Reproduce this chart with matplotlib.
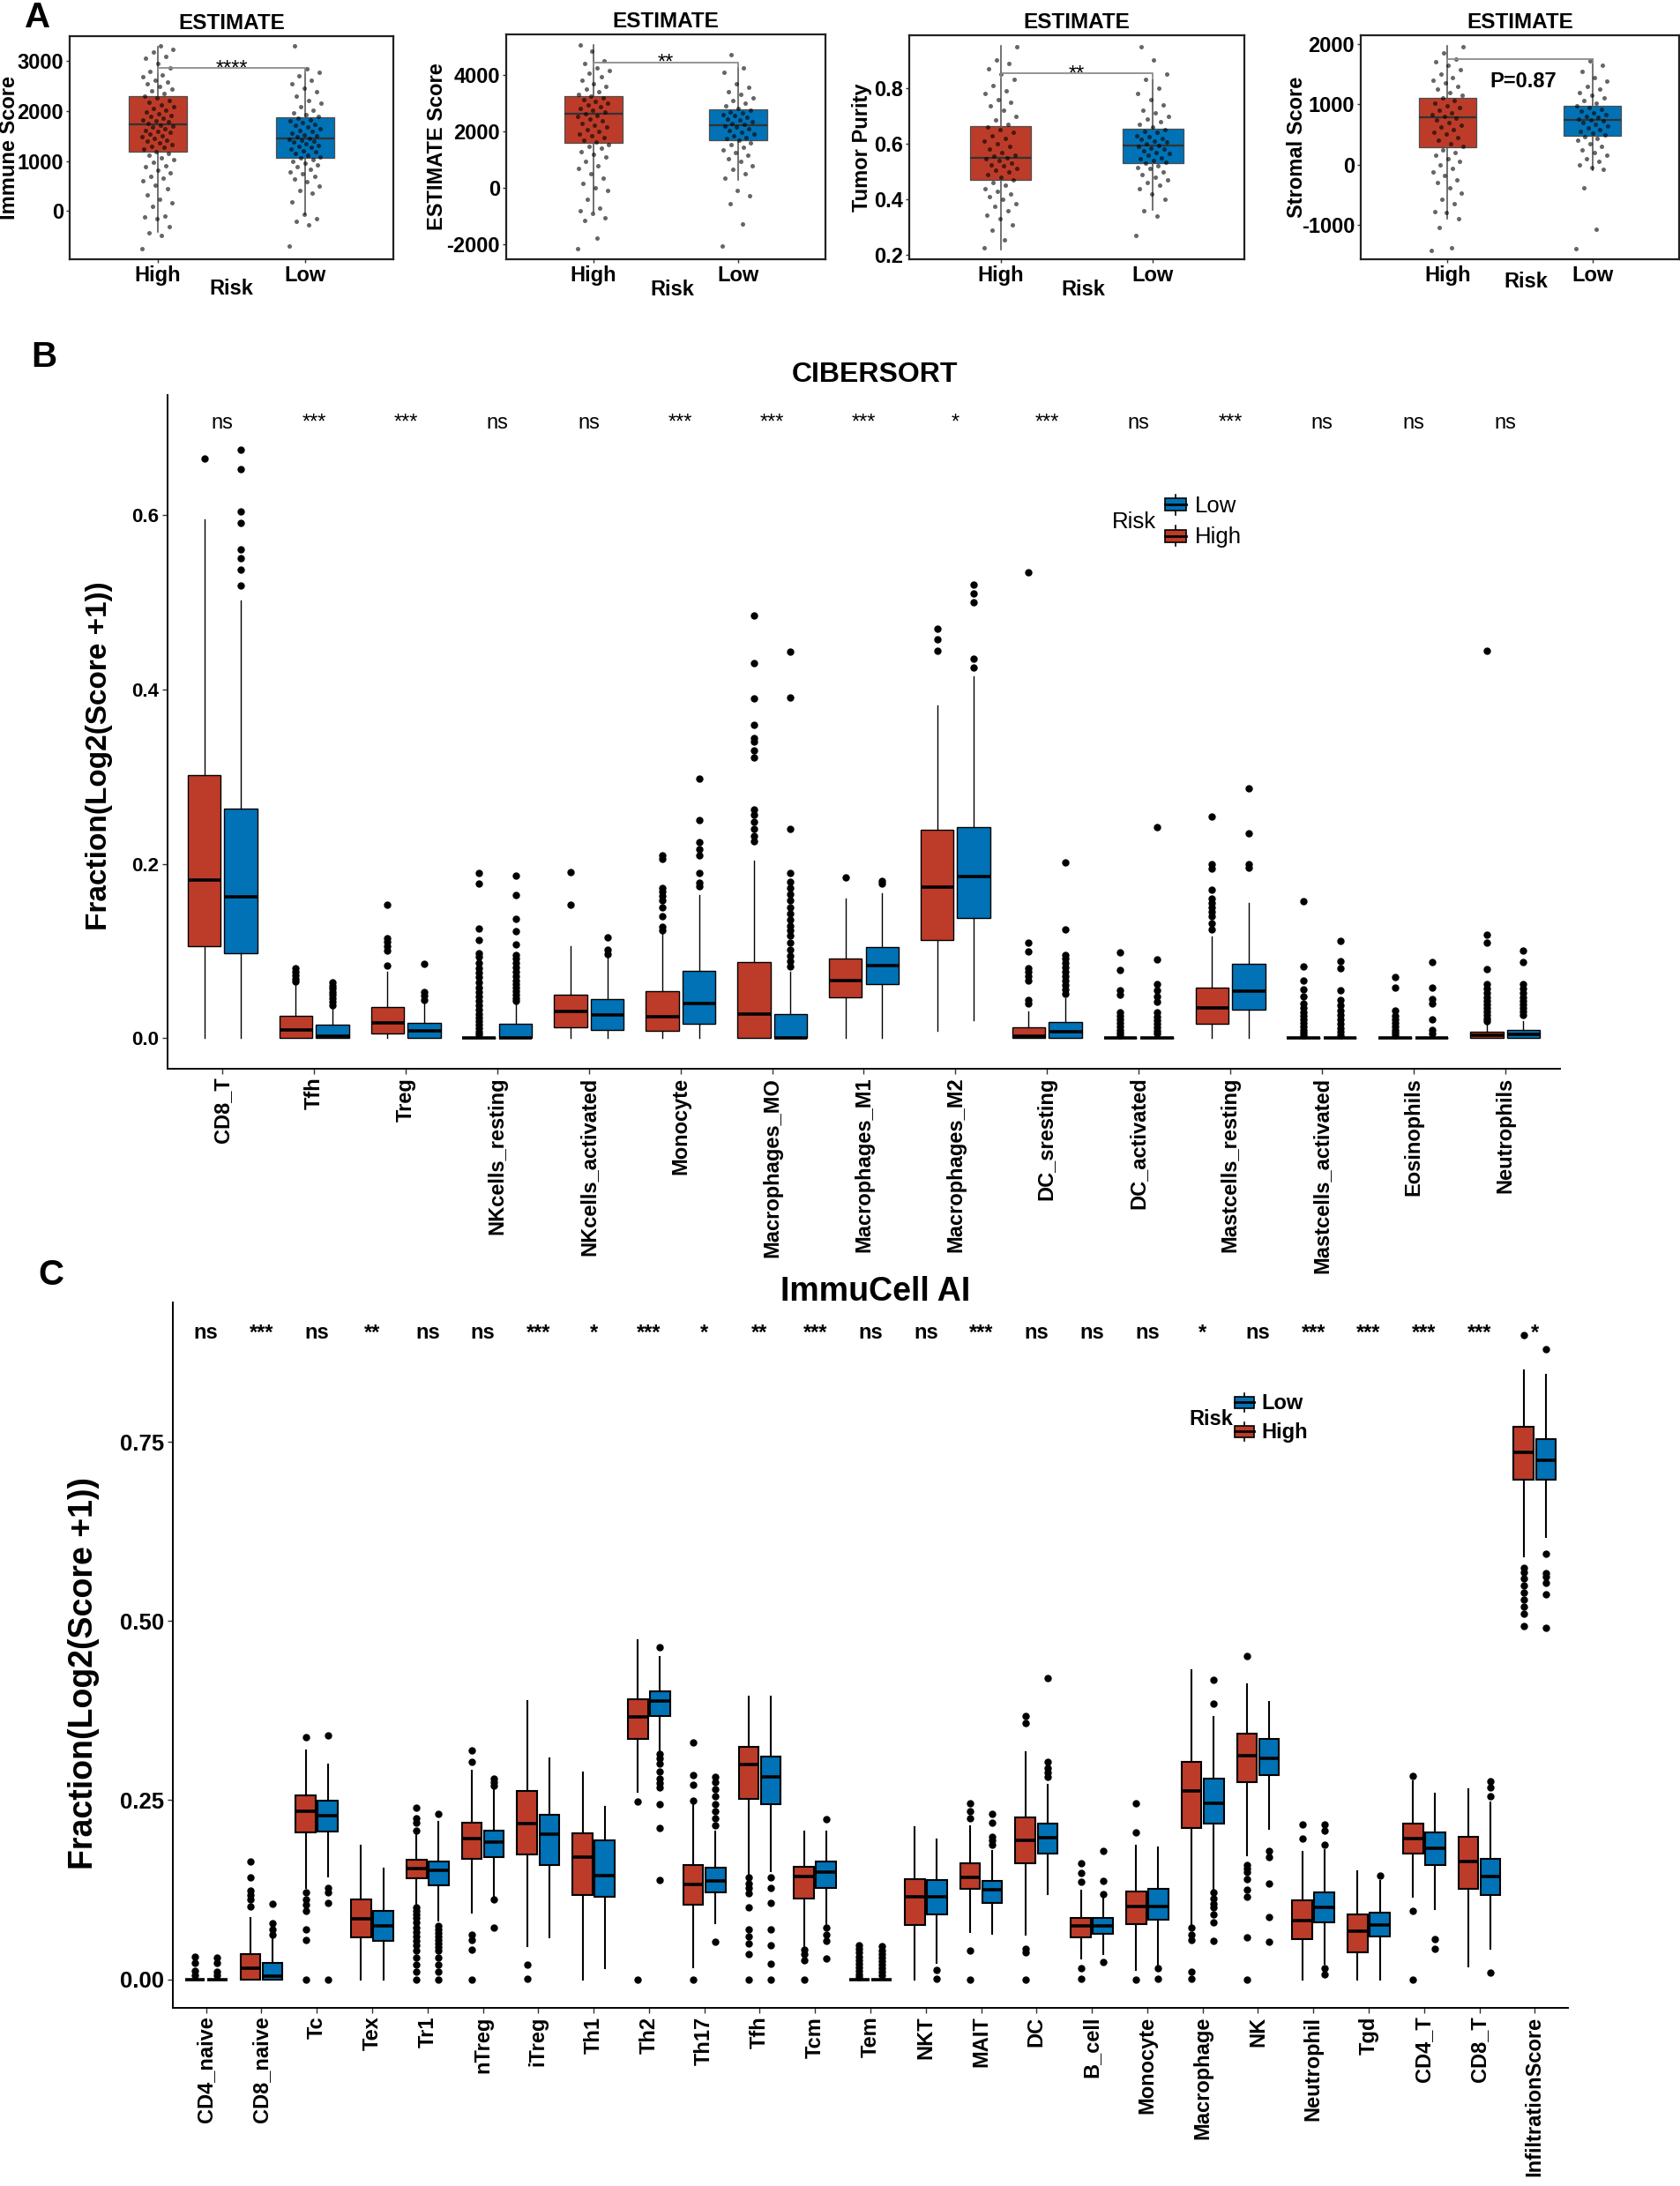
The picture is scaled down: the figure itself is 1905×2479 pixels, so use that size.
import numpy as np
import matplotlib
matplotlib.use("Agg")
import matplotlib.pyplot as plt
from matplotlib.legend_handler import HandlerBase
from matplotlib.patches import Rectangle, Patch
from matplotlib.lines import Line2D

W, H, DPI = 1906, 2479, 100
RED, BLUE = "#BC3C29", "#0072B5"

plt.rcParams["font.family"] = ["Liberation Sans", "DejaVu Sans"]
plt.rcParams["axes.unicode_minus"] = False

# ---------------- panel A: ESTIMATE ----------------
a_ylabels = ["Immune Score", "ESTIMATE Score", "Tumor Purity", "Stromal Score"]
a_yticks = [[0, 1000, 2000, 3000], [-2000, 0, 2000, 4000],
            [0.2, 0.4, 0.6, 0.8], [-1000, 0, 1000, 2000]]
a_ylims = [(-965, 3500), (-2516, 5433), (0.185, 0.99), (-1571, 2146)]
a_signif = ["****", "**", "**", "P=0.87"]
a_bracket = [2857, 4446, 0.853, 1757]
# whislo, q1, median, q3, whishi
a_high_box = [[-423, 1182, 1739, 2298, 3280],
              [-832, 1600, 2618, 3261, 5070],
              [0.221, 0.469, 0.548, 0.665, 0.953],
              [-902, 293, 781, 1108, 1976]]
a_low_box = [[-70, 1069, 1452, 1875, 2840],
             [290, 1693, 2233, 2775, 4240],
             [0.361, 0.530, 0.594, 0.654, 0.832],
             [-88, 478, 742, 976, 1748]]

immune_high = [-760, -480, -440, -310, -150, -120, -100, 90, 160, 230, 330, 450, 520, 610, 660,
               700, 770, 820, 880, 910, 980, 1030, 1070, 1120, 1160, 1190, 1240, 1270, 1300, 1330,
               1370, 1400, 1420, 1450, 1480, 1510, 1540, 1570, 1600, 1620, 1650, 1680, 1700, 1720,
               1750, 1780, 1800, 1830, 1860, 1890, 1920, 1950, 1980, 2010, 2050, 2090, 2130, 2170,
               2210, 2260, 2300, 2350, 2400, 2440, 2490, 2540, 2580, 2620, 2680, 2730, 2800, 2870,
               2950, 3050, 3090, 3180, 3230, 3300]
immune_low = [-700, -270, -200, -160, -60, 180, 350, 420, 500, 580, 640, 690, 740, 780, 830, 880,
              920, 960, 1000, 1030, 1060, 1090, 1120, 1150, 1180, 1210, 1240, 1270, 1300, 1320,
              1350, 1380, 1400, 1420, 1440, 1460, 1480, 1500, 1530, 1560, 1590, 1620, 1650, 1680,
              1710, 1740, 1770, 1800, 1830, 1860, 1890, 1930, 1970, 2020, 2080, 2150, 2220, 2300,
              2380, 2460, 2540, 2620, 2700, 2780, 2840, 3300]
estimate_high = [-2150, -1780, -1150, -1050, -900, -800, -700, -400, -100, 0, 150, 350, 500, 700,
                 800, 950, 1100, 1200, 1300, 1400, 1480, 1550, 1620, 1700, 1780, 1850, 1920, 2000,
                 2070, 2150, 2220, 2300, 2380, 2450, 2520, 2580, 2640, 2700, 2760, 2820, 2880,
                 2940, 3000, 3060, 3120, 3180, 3240, 3300, 3400, 3500, 3600, 3700, 3800, 3950,
                 4050, 4150, 4250, 4400, 4500, 4850, 5070]
estimate_low = [-2050, -1280, -550, -280, -80, 350, 500, 650, 800, 950, 1050, 1150, 1250, 1350,
                1450, 1530, 1600, 1680, 1740, 1800, 1860, 1920, 1980, 2040, 2100, 2150, 2200,
                2250, 2300, 2350, 2400, 2450, 2500, 2550, 2600, 2650, 2700, 2760, 2820, 2900,
                3000, 3100, 3200, 3300, 3400, 3550, 3700, 4100, 4240, 4730]
purity_high = [0.225, 0.255, 0.29, 0.31, 0.33, 0.345, 0.36, 0.375, 0.385, 0.40, 0.41, 0.42, 0.43,
               0.44, 0.45, 0.46, 0.47, 0.48, 0.49, 0.50, 0.505, 0.51, 0.52, 0.525, 0.53, 0.54,
               0.545, 0.55, 0.555, 0.56, 0.57, 0.58, 0.59, 0.60, 0.61, 0.62, 0.63, 0.64, 0.65,
               0.66, 0.67, 0.685, 0.70, 0.72, 0.735, 0.75, 0.76, 0.78, 0.79, 0.81, 0.83, 0.85,
               0.87, 0.89, 0.90, 0.95]
purity_low = [0.27, 0.34, 0.36, 0.40, 0.42, 0.44, 0.45, 0.46, 0.47, 0.48, 0.49, 0.50, 0.51, 0.515,
              0.52, 0.53, 0.535, 0.54, 0.545, 0.55, 0.56, 0.565, 0.57, 0.575, 0.58, 0.585, 0.59,
              0.595, 0.60, 0.605, 0.61, 0.615, 0.62, 0.625, 0.63, 0.64, 0.645, 0.65, 0.66, 0.67,
              0.68, 0.69, 0.70, 0.71, 0.72, 0.74, 0.76, 0.78, 0.80, 0.83, 0.85, 0.90, 0.95]
stromal_high = [-1420, -1380, -1040, -900, -800, -780, -650, -580, -480, -380, -300, -250, -180,
                -120, -60, 0, 50, 100, 150, 200, 250, 300, 350, 400, 450, 500, 540, 580, 620, 660,
                700, 740, 770, 800, 830, 860, 900, 940, 980, 1020, 1060, 1100, 1150, 1200, 1250,
                1300, 1350, 1400, 1450, 1500, 1580, 1650, 1700, 1750, 1850, 1950]
stromal_low = [-1400, -1080, -380, -80, -50, 0, 50, 100, 150, 200, 250, 300, 350, 400, 430, 460,
               490, 520, 550, 580, 610, 640, 670, 700, 720, 740, 760, 780, 800, 830, 860, 890,
               920, 950, 980, 1020, 1060, 1100, 1150, 1200, 1250, 1300, 1380, 1450, 1550, 1650,
               1720]
a_high_pts = [immune_high, estimate_high, purity_high, stromal_high]
a_low_pts = [immune_low, estimate_low, purity_low, stromal_low]

# ---------------- panel B: CIBERSORT ----------------
b_cats = ["CD8_T", "Tfh", "Treg", "NKcells_resting", "NKcells_activated", "Monocyte",
          "Macrophages_MO", "Macrophages_M1", "Macrophages_M2", "DC_sresting", "DC_activated",
          "Mastcells_resting", "Mastcells_activated", "Eosinophils", "Neutrophils"]
b_signif = ["ns", "***", "***", "ns", "ns", "***", "***", "***", "*", "***", "ns", "***",
            "ns", "ns", "ns"]
b_high_box = [[0, 0.106, 0.182, 0.302, 0.595], [0, 0, 0.010, 0.026, 0.062],
              [0, 0.005, 0.018, 0.036, 0.076], [0, 0, 0, 0, 0],
              [0, 0.013, 0.031, 0.050, 0.106], [0, 0.009, 0.025, 0.054, 0.122],
              [0, 0, 0.028, 0.087, 0.204], [0, 0.047, 0.066, 0.091, 0.160],
              [0.009, 0.113, 0.173, 0.239, 0.382], [0, 0, 0.002, 0.013, 0.031],
              [0, 0, 0, 0, 0], [0, 0.017, 0.035, 0.058, 0.117], [0, 0, 0, 0, 0],
              [0, 0, 0, 0, 0], [0, 0, 0.003, 0.007, 0.017]]
b_low_box = [[0, 0.098, 0.162, 0.263, 0.502], [0, 0, 0.002, 0.016, 0.035],
             [0, 0, 0.009, 0.018, 0.041], [0, 0, 0, 0.017, 0.040],
             [0, 0.010, 0.027, 0.045, 0.096], [0, 0.017, 0.040, 0.077, 0.164],
             [0, 0, 0, 0.028, 0.076], [0, 0.062, 0.083, 0.105, 0.166],
             [0.021, 0.138, 0.186, 0.242, 0.415], [0, 0, 0.008, 0.019, 0.046],
             [0, 0, 0, 0, 0], [0, 0.033, 0.054, 0.085, 0.155], [0, 0, 0, 0, 0],
             [0, 0, 0, 0, 0], [0, 0, 0.004, 0.010, 0.020]]
b_high_out = [
    [0.665],
    [0.080, 0.076, 0.072, 0.068, 0.065],
    [0.153, 0.115, 0.111, 0.106, 0.101, 0.083],
    [0.190, 0.177, 0.126, 0.113, 0.098, 0.093, 0.086, 0.080, 0.075, 0.070, 0.064, 0.058,
     0.053, 0.048, 0.043, 0.038, 0.033, 0.028, 0.024, 0.020, 0.016, 0.012, 0.008, 0.004],
    [0.191, 0.153],
    [0.210, 0.206, 0.172, 0.168, 0.163, 0.158, 0.150, 0.140, 0.128, 0.124],
    [0.485, 0.430, 0.390, 0.360, 0.344, 0.340, 0.330, 0.322, 0.262, 0.256, 0.248, 0.240,
     0.232, 0.226],
    [0.185],
    [0.470, 0.458, 0.445],
    [0.535, 0.110, 0.100, 0.080, 0.076, 0.071, 0.066, 0.044, 0.040],
    [0.099, 0.078, 0.055, 0.050, 0.030, 0.026, 0.022, 0.018, 0.014, 0.010, 0.006, 0.003],
    [0.254, 0.200, 0.195, 0.170, 0.160, 0.155, 0.150, 0.145, 0.140, 0.132, 0.125],
    [0.157, 0.082, 0.066, 0.056, 0.048, 0.040, 0.035, 0.030, 0.026, 0.022, 0.018, 0.014,
     0.010, 0.006, 0.003],
    [0.070, 0.058, 0.032, 0.026, 0.022, 0.018, 0.014, 0.010, 0.006, 0.003],
    [0.445, 0.119, 0.110, 0.079, 0.062, 0.057, 0.052, 0.047, 0.043, 0.039, 0.035, 0.031,
     0.027, 0.023, 0.020],
]
b_low_out = [
    [0.675, 0.653, 0.604, 0.591, 0.561, 0.551, 0.538, 0.519],
    [0.064, 0.060, 0.057, 0.053, 0.050, 0.046, 0.042, 0.038],
    [0.085, 0.053, 0.049, 0.044],
    [0.187, 0.164, 0.137, 0.123, 0.108, 0.096, 0.091, 0.086, 0.081, 0.076, 0.071, 0.066,
     0.062, 0.058, 0.054, 0.050, 0.046, 0.043],
    [0.116, 0.102, 0.097],
    [0.298, 0.250, 0.225, 0.217, 0.210, 0.190, 0.178, 0.174],
    [0.444, 0.391, 0.240, 0.190, 0.180, 0.172, 0.165, 0.158, 0.150, 0.143, 0.136, 0.129,
     0.124, 0.118, 0.110, 0.102, 0.095, 0.088, 0.082],
    [0.181, 0.177],
    [0.520, 0.510, 0.500, 0.435, 0.425],
    [0.202, 0.125, 0.096, 0.091, 0.086, 0.081, 0.076, 0.071, 0.066, 0.061, 0.056, 0.051],
    [0.242, 0.090, 0.062, 0.055, 0.048, 0.042, 0.030, 0.025, 0.021, 0.017, 0.013, 0.009,
     0.005],
    [0.287, 0.235, 0.200, 0.196],
    [0.112, 0.088, 0.080, 0.055, 0.044, 0.038, 0.032, 0.027, 0.022, 0.017, 0.012, 0.007,
     0.003],
    [0.087, 0.058, 0.045, 0.040, 0.022, 0.010, 0.005],
    [0.101, 0.087, 0.062, 0.057, 0.052, 0.047, 0.043, 0.039, 0.035, 0.031, 0.027],
]

# ---------------- panel C: ImmuCell AI ----------------
c_cats = ["CD4_naive", "CD8_naive", "Tc", "Tex", "Tr1", "nTreg", "iTreg", "Th1", "Th2", "Th17",
          "Tfh", "Tcm", "Tem", "NKT", "MAIT", "DC", "B_cell", "Monocyte", "Macrophage", "NK",
          "Neutrophil", "Tgd", "CD4_T", "CD8_T", "InfiltrationScore"]
c_signif = ["ns", "***", "ns", "**", "ns", "ns", "***", "*", "***", "*", "**", "***", "ns",
            "ns", "***", "ns", "ns", "ns", "*", "ns", "***", "***", "***", "***", "*"]
c_high_box = [[0, 0, 0, 0, 0], [0, 0, 0.016, 0.035, 0.085], [0.127, 0.205, 0.234, 0.257, 0.320],
              [0, 0.058, 0.084, 0.111, 0.187], [0.104, 0.141, 0.154, 0.167, 0.203],
              [0.093, 0.168, 0.196, 0.219, 0.291], [0.046, 0.174, 0.217, 0.263, 0.389],
              [0, 0.117, 0.170, 0.204, 0.289], [0.262, 0.336, 0.366, 0.391, 0.473],
              [0.017, 0.104, 0.132, 0.160, 0.243], [0.145, 0.252, 0.300, 0.325, 0.395],
              [0.044, 0.113, 0.143, 0.157, 0.206], [0, 0, 0, 0, 0],
              [0, 0.076, 0.115, 0.140, 0.213], [0.066, 0.126, 0.142, 0.162, 0.214],
              [0.062, 0.162, 0.194, 0.226, 0.317], [0.029, 0.058, 0.074, 0.085, 0.124],
              [0.013, 0.077, 0.102, 0.123, 0.187], [0.073, 0.211, 0.263, 0.304, 0.431],
              [0.173, 0.275, 0.312, 0.343, 0.412], [0, 0.056, 0.082, 0.110, 0.178],
              [0, 0.037, 0.067, 0.090, 0.151], [0.115, 0.175, 0.196, 0.217, 0.276],
              [0.018, 0.126, 0.164, 0.199, 0.265], [0.591, 0.698, 0.736, 0.771, 0.850]]
c_low_box = [[0, 0, 0, 0, 0], [0, 0, 0.004, 0.023, 0.058], [0.144, 0.206, 0.229, 0.249, 0.300],
             [0, 0.053, 0.074, 0.096, 0.154], [0.082, 0.131, 0.152, 0.165, 0.220],
             [0.116, 0.171, 0.191, 0.208, 0.265], [0.059, 0.160, 0.203, 0.230, 0.309],
             [0.015, 0.115, 0.145, 0.194, 0.241], [0.317, 0.368, 0.388, 0.402, 0.450],
             [0.078, 0.121, 0.137, 0.156, 0.206], [0.151, 0.244, 0.282, 0.311, 0.395],
             [0.074, 0.128, 0.150, 0.164, 0.206], [0, 0, 0, 0, 0],
             [0.023, 0.090, 0.115, 0.139, 0.195], [0.064, 0.107, 0.125, 0.137, 0.179],
             [0.119, 0.176, 0.198, 0.217, 0.272], [0.035, 0.064, 0.075, 0.086, 0.118],
             [0.017, 0.083, 0.102, 0.126, 0.184], [0.123, 0.217, 0.246, 0.280, 0.366],
             [0.210, 0.285, 0.309, 0.336, 0.387], [0.021, 0.080, 0.100, 0.121, 0.181],
             [0, 0.060, 0.076, 0.093, 0.137], [0.098, 0.159, 0.183, 0.205, 0.259],
             [0.043, 0.117, 0.143, 0.168, 0.247], [0.617, 0.697, 0.724, 0.754, 0.844]]
c_high_out = [
    [0.032, 0.023, 0.012, 0.006],
    [0.165, 0.142, 0.124, 0.118, 0.111, 0.102],
    [0.338, 0.121, 0.111, 0.104, 0.096, 0.070, 0.055, 0.0],
    [],
    [0.240, 0.225, 0.219, 0.208, 0.100, 0.095, 0.090, 0.085, 0.080, 0.072, 0.066, 0.060,
     0.054, 0.048, 0.040, 0.030, 0.020, 0.010, 0.0],
    [0.320, 0.303, 0.062, 0.055, 0.041, 0.0],
    [0.020, 0.001],
    [],
    [0.248, 0.0],
    [0.330, 0.285, 0.271, 0.249, 0.0],
    [0.142, 0.134, 0.127, 0.120, 0.100, 0.069, 0.060, 0.050, 0.035, 0.0],
    [0.041, 0.035, 0.027, 0.0],
    [0.047, 0.042, 0.037, 0.032, 0.027, 0.022, 0.017, 0.012, 0.007, 0.003],
    [],
    [0.246, 0.235, 0.225, 0.040, 0.0],
    [0.367, 0.358, 0.042, 0.038, 0.0],
    [0.162, 0.148, 0.136, 0.015, 0.001],
    [0.246, 0.205, 0.0],
    [0.072, 0.062, 0.055, 0.010, 0.001],
    [0.451, 0.160, 0.155, 0.150, 0.140, 0.125, 0.115, 0.059, 0.0],
    [0.216, 0.197],
    [],
    [0.284, 0.096, 0.0],
    [],
    [0.900, 0.574, 0.568, 0.560, 0.550, 0.540, 0.530, 0.520, 0.510, 0.493],
]
c_low_out = [
    [0.030, 0.023, 0.010, 0.005],
    [0.105, 0.078, 0.069, 0.062],
    [0.341, 0.127, 0.121, 0.107, 0.0],
    [],
    [0.231, 0.075, 0.070, 0.065, 0.060, 0.055, 0.050, 0.045, 0.040, 0.030, 0.020, 0.010, 0.0],
    [0.280, 0.275, 0.270, 0.111, 0.072],
    [],
    [],
    [0.464, 0.314, 0.308, 0.301, 0.290, 0.280, 0.274, 0.268, 0.245, 0.211, 0.139],
    [0.283, 0.275, 0.265, 0.255, 0.245, 0.235, 0.225, 0.215, 0.052],
    [0.142, 0.127, 0.107, 0.069, 0.047, 0.021, 0.0],
    [0.224, 0.072, 0.062, 0.053, 0.029],
    [0.046, 0.040, 0.035, 0.030, 0.025, 0.020, 0.015, 0.010, 0.005],
    [0.013, 0.001],
    [0.231, 0.219, 0.199, 0.194, 0.188],
    [0.421, 0.303, 0.295, 0.289, 0.283],
    [0.179, 0.137, 0.119, 0.024],
    [0.015, 0.001],
    [0.418, 0.385, 0.121, 0.113, 0.105, 0.100, 0.090, 0.080, 0.053],
    [0.179, 0.170, 0.133, 0.087, 0.052],
    [0.216, 0.208, 0.188, 0.015, 0.007],
    [0.145],
    [0.056, 0.043],
    [0.277, 0.268, 0.255, 0.009],
    [0.880, 0.594, 0.567, 0.562, 0.554, 0.538, 0.491],
]


def px_rect(l, t, r, b):
    return [l / W, 1 - b / H, (r - l) / W, (b - t) / H]


def stats_of(box, fliers):
    return dict(whislo=box[0], q1=box[1], med=box[2], q3=box[3], whishi=box[4], fliers=fliers)


class BoxHandle(HandlerBase):
    def create_artists(self, legend, orig_handle, xdescent, ydescent, width, height,
                       fontsize, trans):
        x0, y0 = -xdescent, -ydescent
        cx = x0 + width / 2
        rect = Rectangle((x0, y0 + 0.2 * height), width, 0.6 * height,
                         facecolor=orig_handle.get_facecolor(), edgecolor="black",
                         lw=1.2, transform=trans)
        med = Line2D([x0, x0 + width], [y0 + 0.5 * height] * 2, color="black", lw=2,
                     transform=trans)
        w1 = Line2D([cx, cx], [y0, y0 + 0.2 * height], color="black", lw=1.2, transform=trans)
        w2 = Line2D([cx, cx], [y0 + 0.8 * height, y0 + height], color="black", lw=1.2,
                    transform=trans)
        return [w1, w2, rect, med]


fig = plt.figure(figsize=(W / DPI, H / DPI), dpi=DPI)
fig.patch.set_facecolor("white")

# ---------- panel A ----------
a_frames = [(79, 41, 446, 294), (574, 39, 936, 294), (1031, 40, 1411, 294), (1543, 40, 1904, 294)]
a_ylab_x = [-0.188, -0.218, -0.142, -0.202]
a_xlab_pos = [(0.5, -0.134), (0.521, -0.134), (0.518, -0.134), (0.518, -0.102)]
for i in range(4):
    ax = fig.add_axes(px_rect(*a_frames[i]))
    for pos, box, pts, col in ((1, a_high_box[i], a_high_pts[i], RED),
                               (2, a_low_box[i], a_low_pts[i], BLUE)):
        ax.bxp([stats_of(box, [])], positions=[pos], widths=0.4, patch_artist=True,
               showcaps=False, showfliers=False, manage_ticks=False,
               boxprops=dict(facecolor=col, edgecolor="#4d4d4d", linewidth=0.9),
               medianprops=dict(color="#333333", linewidth=1.6),
               whiskerprops=dict(color="#5a5a5a", linewidth=1.2))
        y = np.array(pts, dtype=float)
        jit = ((np.arange(len(y)) * 0.618034) % 1.0 - 0.5) * 0.22
        ax.scatter(pos + jit, y, s=13, color="black", alpha=0.6, linewidths=0, zorder=3)
    lo, hi = a_ylims[i]
    rng = hi - lo
    b = a_bracket[i]
    ax.plot([1, 1, 2, 2], [b - 0.02 * rng, b, b, b - 0.02 * rng], color="#8c8c8c", lw=1.3,
            zorder=4)
    if a_signif[i].startswith("P"):
        ax.text(1.52, b - 0.103 * rng, a_signif[i], ha="center", va="center", fontsize=17,
                fontweight="bold")
    else:
        ax.annotate(a_signif[i], xy=(1.5, b), xytext=(0, -5), textcoords="offset points",
                    ha="center", va="baseline", fontsize=17)
    ax.set_xlim(0.4, 2.6)
    ax.set_ylim(lo, hi)
    ax.set_xticks([1, 2])
    ax.set_xticklabels(["High", "Low"], fontsize=17, fontweight="bold")
    ax.set_yticks(a_yticks[i])
    ax.set_yticklabels([f"{v:g}" for v in a_yticks[i]], fontsize=17, fontweight="bold")
    ax.tick_params(length=3, width=1, pad=2, color="#333333")
    for sp in ax.spines.values():
        sp.set_linewidth(1.6)
        sp.set_color("#222222")
    ax.set_title("ESTIMATE", fontsize=17.5, fontweight="bold", pad=6)
    ax.set_ylabel(a_ylabels[i], fontsize=17, fontweight="bold")
    ax.yaxis.set_label_coords(a_ylab_x[i], 0.5)
    ax.yaxis.label.set_va("center")
    ax.set_xlabel("Risk", fontsize=17, fontweight="bold")
    ax.xaxis.set_label_coords(*a_xlab_pos[i])
    ax.xaxis.label.set_va("center")


# ---------- panels B and C ----------
def draw_cells(ax, cats, hi_box, lo_box, hi_out, lo_out, signif, sig_y, lw, sig_weight):
    n = len(cats)
    x = np.arange(1, n + 1)
    for off, boxes, outs, col in ((-0.2, hi_box, hi_out, RED), (0.2, lo_box, lo_out, BLUE)):
        ax.bxp([stats_of(bx, o) for bx, o in zip(boxes, outs)], positions=x + off,
               widths=0.36, patch_artist=True, showcaps=False, manage_ticks=False,
               boxprops=dict(facecolor=col, edgecolor="black", linewidth=lw),
               medianprops=dict(color="black", linewidth=2.6),
               whiskerprops=dict(color="black", linewidth=lw),
               flierprops=dict(marker="o", markerfacecolor="black", markeredgecolor="black",
                               markersize=5))
    for xi, s in zip(x, signif):
        ax.text(xi, sig_y, s, ha="center", va="baseline", fontsize=17, fontweight=sig_weight)
    ax.set_xlim(0.4, n + 0.6)
    ax.set_xticks(x)
    ax.set_xticklabels(cats, rotation=90, ha="center", va="top", fontsize=17,
                       fontweight="bold")
    for side in ("top", "right"):
        ax.spines[side].set_visible(False)
    for side in ("left", "bottom"):
        ax.spines[side].set_linewidth(1.4)
    ax.tick_params(length=4, width=1, color="#333333", pad=3)


def add_legend(ax, x_left, y_mid, size, weight, risk_right):
    ax.legend(handles=[Patch(facecolor=BLUE), Patch(facecolor=RED)], labels=["Low", "High"],
              handler_map={Patch: BoxHandle()}, loc="center left",
              bbox_to_anchor=(x_left / W, 1 - y_mid / H), bbox_transform=fig.transFigure,
              frameon=False, borderpad=0, borderaxespad=0, handlelength=0.95,
              handleheight=1.0, handletextpad=0.35, labelspacing=0.4,
              prop=dict(size=size, weight=weight))
    fig.text(risk_right / W, 1 - (y_mid + 1) / H, "Risk", ha="right", va="center",
             fontsize=size, fontweight=weight)


axb = fig.add_axes(px_rect(190, 448, 1769, 1212))
draw_cells(axb, b_cats, b_high_box, b_low_box, b_high_out, b_low_out, b_signif, 0.70, 1.0,
           "normal")
axb.set_ylim(-0.035, 0.738)
axb.set_yticks([0.0, 0.2, 0.4, 0.6])
axb.set_yticklabels(["0.0", "0.2", "0.4", "0.6"], fontsize=16, fontweight="bold")
axb.set_ylabel("Fraction(Log2(Score +1))", fontsize=24, fontweight="bold")
axb.yaxis.set_label_coords(-0.049, 0.465)
axb.yaxis.label.set_va("center")
add_legend(axb, 1321, 591, 18.5, "normal", 1311)
fig.text(992 / W, 1 - 425 / H, "CIBERSORT", ha="center", va="center", fontsize=23,
         fontweight="bold")

axc = fig.add_axes(px_rect(196, 1477, 1778, 2277))
draw_cells(axc, c_cats, c_high_box, c_low_box, c_high_out, c_low_out, c_signif, 0.895, 1.5,
           "bold")
axc.set_ylim(-0.04, 0.945)
axc.set_yticks([0.0, 0.25, 0.5, 0.75])
axc.set_yticklabels(["0.00", "0.25", "0.50", "0.75"], fontsize=18.5, fontweight="bold")
axc.set_ylabel("Fraction(Log2(Score +1))", fontsize=27, fontweight="bold")
axc.yaxis.set_label_coords(-0.064, 0.475)
axc.yaxis.label.set_va("center")
add_legend(axc, 1400, 1608, 17, "bold", 1398)
fig.text(993 / W, 1 - 1465 / H, "ImmuCell AI", ha="center", va="center", fontsize=27,
         fontweight="bold")

# panel letters
fig.text(43 / W, 1 - 20 / H, "A", ha="center", va="center", fontsize=29, fontweight="bold")
fig.text(50 / W, 1 - 405 / H, "B", ha="center", va="center", fontsize=29, fontweight="bold")
fig.text(58 / W, 1 - 1446 / H, "C", ha="center", va="center", fontsize=29, fontweight="bold")

fig.savefig("out.png", dpi=DPI, facecolor="white")
